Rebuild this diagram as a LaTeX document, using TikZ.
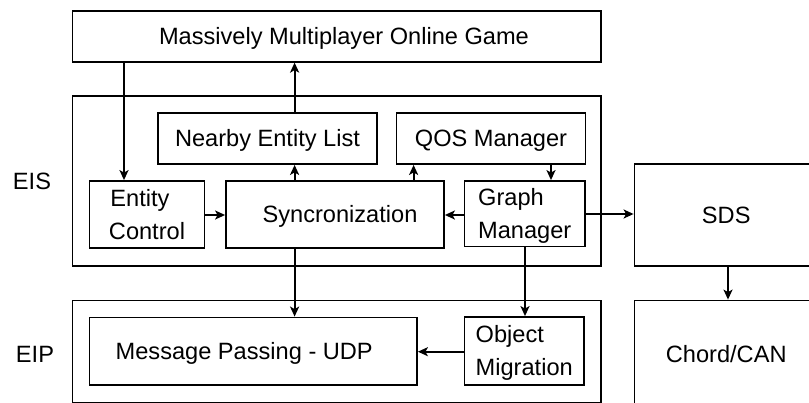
\documentclass[tikz,border=0pt]{standalone}
\usepackage{fontspec}
\setmainfont{Liberation Sans}
\usetikzlibrary{arrows.meta}
\newcommand{\stt}{\rule[-5pt]{0pt}{26pt}}
\begin{document}
\begin{tikzpicture}[x=1pt,y=-1pt,
  lw/.style={line width=1.8pt},
  txt/.style={font=\fontsize{23.6}{33}\selectfont},
  box/.style={draw, lw, txt, inner sep=0pt, align=center},
  lbox/.style={draw, lw, txt, inner sep=0pt, align=left},
  arr/.style={lw, -{Stealth[length=10pt,width=9pt,inset=2.5pt]}},
  lbl/.style={txt, inner sep=0pt}]
\useasboundingbox (0,0) rectangle (809,402);
\clip (0,0) rectangle (809,402);
% containers
\node[box, minimum width=528.5, minimum height=51] (mmog) at (336.75,36.2) {\hspace*{14.5pt}\stt Massively Multiplayer Online Game};
\node[box, minimum width=528.5, minimum height=170] (eis) at (336.75,181) {};
\node[box, minimum width=528.5, minimum height=102.1] (eip) at (336.75,351.55) {};
\node[box, minimum width=183.5, minimum height=102] (sds) at (726.25,215) {\stt SDS};
\node[box, minimum width=183.5, minimum height=107] (chord) at (726.25,354) {\stt Chord/CAN};
% side labels
\node[lbl] (eislbl) at (32,181) {\stt EIS};
\node[lbl] (eiplbl) at (35,354) {\stt EIP};
% inner boxes
\node[box, minimum width=219, minimum height=51] (nel) at (267.5,138.5) {\stt Nearby Entity List};
\node[box, minimum width=189, minimum height=51] (qos) at (491,138.5) {\stt QOS Manager};
\node[box, minimum width=115, minimum height=67] (ec) at (147,214.5) {\stt Entity\hspace*{14pt}\\\stt Control};
\node[box, minimum width=218, minimum height=67] (sync) at (335,214.5) {\hspace*{10pt}\stt Syncronization};
\node[lbox, minimum width=120.5, minimum height=65.5] (graph) at (524.75,213.75) {\stt Graph\\\stt Manager};
\node[box, minimum width=327.5, minimum height=67.8] (mp) at (253.25,351.4) {\stt Message Passing - UDP\hspace*{18pt}};
\node[lbox, minimum width=119.5, minimum height=68.3] (om) at (524.25,351.15) {\stt Object\\\stt Migration};
% connector columns
\coordinate (xa) at (124,0);
\coordinate (xb) at (294.6,0);
\coordinate (xc) at (413.6,0);
\coordinate (xd) at (551,0);
\coordinate (xe) at (525,0);
\coordinate (xf) at (728,0);
\coordinate (ya) at (0,215);
\coordinate (yb) at (0,214);
\coordinate (yc) at (0,351.7);
% connectors
\draw[arr] (mmog.south -| xa) -- (ec.north -| xa);
\draw[arr] (nel.north -| xb) -- (mmog.south -| xb);
\draw[arr] (sync.north -| xb) -- (nel.south -| xb);
\draw[arr] (sync.north -| xc) -- (qos.south -| xc);
\draw[arr] (qos.south -| xd) -- (graph.north -| xd);
\draw[arr] (ec.east |- ya) -- (sync.west |- ya);
\draw[arr] (graph.west |- ya) -- (sync.east |- ya);
\draw[arr] (graph.east |- yb) -- (sds.west |- yb);
\draw[arr] (sync.south -| xb) -- (mp.north -| xb);
\draw[arr] (graph.south -| xe) -- (om.north -| xe);
\draw[arr] (om.west |- yc) -- (mp.east |- yc);
\draw[arr] (sds.south -| xf) -- (chord.north -| xf);
\end{tikzpicture}
\end{document}
